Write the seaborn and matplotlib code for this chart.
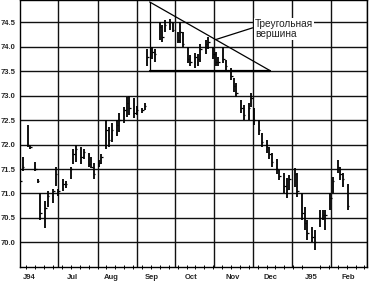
import matplotlib
matplotlib.use("Agg")
import matplotlib.pyplot as plt
import matplotlib.dates as mdates
import numpy as np
import pandas as pd
import seaborn as sns

# ---------------- data ----------------
high = [71.30, 71.75, 72.40, 72.00, 71.65, 71.30, 71.00, 70.85, 71.05, 71.10,
        71.55, 71.10, 71.30, 71.25, 71.55, 71.90, 72.00, 71.95, 71.90, 71.83,
        71.75, 71.62, 71.68, 71.80, 72.50, 72.36, 72.44, 72.50, 72.65, 72.77,
        72.98, 73.00, 72.95, 72.80, 72.75, 72.85, 73.95, 74.00, 73.95, 74.50,
        74.45, 74.55, 74.58, 74.50, 74.30, 74.50, 74.30, 74.00, 73.84, 73.88,
        73.85, 74.05, 74.15, 74.20, 74.00, 73.90, 73.80, 74.00, 73.74, 73.57,
        73.37, 73.26, 72.92, 72.81, 72.85, 73.05, 72.75, 72.50, 72.24, 72.10,
        71.95, 71.83, 71.70, 71.48, 71.42, 71.32, 71.38, 71.52, 71.42, 71.00,
        70.72, 70.46, 70.32, 70.25, 70.66, 70.66, 70.66, 71.00, 71.34, 71.69,
        71.55, 71.42, 71.20]
low = [71.20, 71.45, 71.95, 71.90, 71.45, 71.22, 70.45, 70.30, 70.72, 70.80,
       71.15, 70.95, 71.05, 71.12, 71.30, 71.60, 71.65, 71.60, 71.70, 71.55,
       71.52, 71.30, 71.55, 71.60, 71.90, 71.95, 72.06, 72.17, 72.26, 72.44,
       72.57, 72.60, 72.55, 72.60, 72.65, 72.70, 73.60, 73.75, 73.70, 74.15,
       74.10, 74.30, 74.35, 74.30, 74.08, 74.08, 74.00, 73.67, 73.60, 73.57,
       73.60, 73.70, 73.85, 73.95, 73.75, 73.60, 73.60, 73.68, 73.53, 73.33,
       73.08, 72.98, 72.65, 72.50, 72.50, 72.77, 72.40, 72.20, 71.95, 71.83,
       71.70, 71.55, 71.40, 71.28, 71.00, 70.90, 71.07, 71.13, 70.93, 70.46,
       70.25, 70.05, 70.00, 69.85, 70.31, 70.46, 70.25, 70.66, 71.00, 71.42,
       71.28, 71.13, 70.66]
close = [71.25, 71.55, 72.00, 71.95, 71.50, 71.25, 70.60, 70.70, 70.95, 71.05,
         71.40, 71.05, 71.20, 71.20, 71.50, 71.80, 71.90, 71.75, 71.85, 71.60,
         71.55, 71.40, 71.62, 71.75, 72.30, 72.10, 72.30, 72.40, 72.50, 72.70,
         72.85, 72.75, 72.65, 72.70, 72.70, 72.80, 73.80, 73.90, 73.85, 74.40,
         74.20, 74.45, 74.50, 74.35, 74.15, 74.30, 74.05, 73.75, 73.70, 73.80,
         73.75, 73.95, 74.05, 74.10, 73.85, 73.70, 73.70, 73.75, 73.60, 73.40,
         73.20, 73.05, 72.75, 72.60, 72.75, 72.95, 72.50, 72.30, 72.05, 71.95,
         71.80, 71.65, 71.50, 71.35, 71.15, 71.10, 71.30, 71.40, 71.05, 70.60,
         70.40, 70.20, 70.10, 70.00, 70.50, 70.55, 70.55, 70.90, 71.25, 71.55,
         71.40, 71.30, 70.75]
dates = pd.bdate_range("1994-06-01", periods=2 * len(high))[::2]

month_starts = pd.date_range("1994-07-01", "1995-03-01", freq="MS")
month_labels = ["J94", "Jul", "Aug", "Sep", "Oct", "Nov", "Dec", "J95", "Feb"]
label_dates = pd.to_datetime(["1994-06-08", "1994-07-12", "1994-08-12", "1994-09-13",
                              "1994-10-14", "1994-11-15", "1994-12-15", "1995-01-16",
                              "1995-02-14"])
y_ticks = [70.0, 70.5, 71.0, 71.5, 72.0, 72.5, 73.0, 73.5, 74.0, 74.5]

tri_dates = pd.to_datetime(["1994-09-11", "1994-09-11", "1994-12-15", "1994-09-11"])
tri_vals = [74.92, 73.51, 73.51, 74.92]
pointer_dates = pd.to_datetime(["1994-11-02", "1994-12-01"])
pointer_vals = [74.15, 74.39]
note = "Треугольная\nвершина"
note_date = pd.Timestamp("1994-12-03")
note_val = 74.37

# ---------------- figure ----------------
sns.set_theme(style="white")
plt.rcParams["font.family"] = ["Liberation Sans", "DejaVu Sans"]

fig = plt.figure(figsize=(3.72, 2.87), dpi=100)
ax = fig.add_axes([20 / 372, 1 - 266.7 / 287, 347 / 372, 266.7 / 287])

ax.set_xlim(pd.Timestamp("1994-06-01"), pd.Timestamp("1995-03-01"))
ax.set_ylim(69.5, 74.96)

# grid
for d in month_starts:
    ax.axvline(d, color="#111111", lw=1.0, zorder=1)
for v in y_ticks:
    ax.axhline(v, color="#111111", lw=1.0, zorder=1)

# bars
xn = mdates.date2num(dates)
ax.vlines(xn, low, high, color="black", lw=1.3, zorder=3)
ax.hlines(close, xn, xn + 1.2, color="black", lw=0.9, zorder=3)

# triangle
ax.plot(tri_dates[:2], tri_vals[:2], color="black", lw=0.9, zorder=4)
ax.plot(tri_dates[1:3], tri_vals[1:3], color="black", lw=1.6, zorder=4)
ax.plot(tri_dates[2:4], tri_vals[2:4], color="black", lw=0.9, zorder=4)
ax.plot(pointer_dates, pointer_vals, color="black", lw=0.9, zorder=4)
ax.text(note_date, note_val, note, fontsize=7.3, va="center", ha="left",
        linespacing=1.0, color="#222222", zorder=5,
        bbox=dict(facecolor="white", edgecolor="none", pad=0.6))

# ticks
ax.set_yticks(y_ticks)
ax.set_yticklabels([f"{v:.1f}" for v in y_ticks], fontsize=5.5, fontweight="bold")
ax.tick_params(axis="y", length=0, pad=3)
ax.set_xticks(mdates.date2num(label_dates))
ax.set_xticklabels(month_labels, fontsize=5.5, fontweight="bold")
ax.tick_params(axis="x", which="major", length=0, pad=5)
ax.xaxis.set_minor_locator(mdates.WeekdayLocator(byweekday=mdates.MO))
ax.tick_params(axis="x", which="minor", length=3, width=0.7, direction="inout",
               color="black", bottom=True)
ax.grid(False)
for s in ax.spines.values():
    s.set_color("black")
    s.set_linewidth(1.0)

fig.savefig("out.png", dpi=100)
